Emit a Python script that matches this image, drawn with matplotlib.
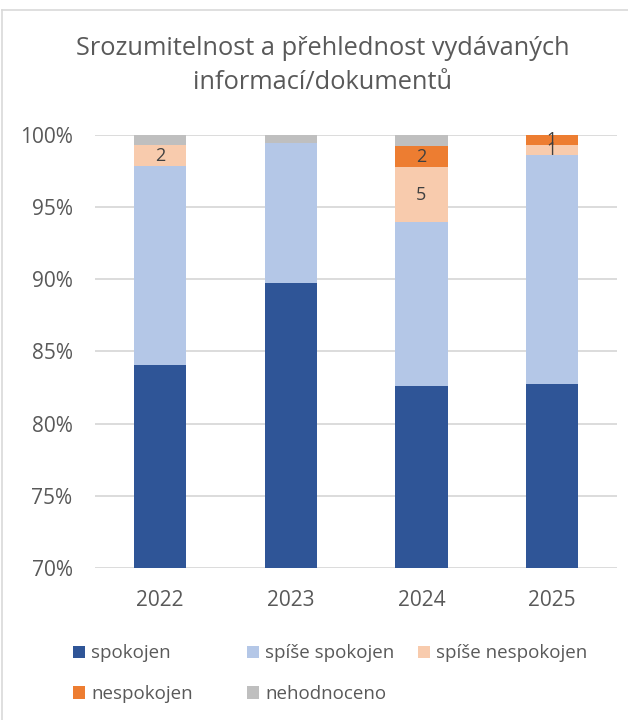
import matplotlib
matplotlib.use('Agg')
from matplotlib import pyplot as plt
from matplotlib.lines import Line2D
import numpy as np

plt.rcParams['font.family'] = ['Open Sans', 'DejaVu Sans']

years = ['2022', '2023', '2024', '2025']
series = ['spokojen', 'spíše spokojen', 'spíše nespokojen', 'nespokojen', 'nehodnoceno']
colors = ['#2F5597', '#B4C7E7', '#F8CBAD', '#ED7D31', '#BFBFBF']

# counts of answers per year
spokojen = [116, 157, 109, 115]
spise_spokojen = [19, 17, 15, 22]
spise_nespokojen = [2, 0, 5, 1]
nespokojen = [0, 0, 2, 1]
nehodnoceno = [1, 1, 1, 0]
labelled = [False, False, True, True, False]

counts = np.array([spokojen, spise_spokojen, spise_nespokojen, nespokojen, nehodnoceno], dtype=float)
shares = counts / counts.sum(axis=0)

text_col = '#595959'
fig = plt.figure(figsize=(6.28, 7.2), dpi=100)
ax = fig.add_axes([0.151, 0.211, 0.832, 0.602])

x = np.arange(len(years))
bottom = np.zeros(len(years))
handles = []
for i, name in enumerate(series):
    bars = ax.bar(x, shares[i], 0.4, bottom=bottom, color=colors[i], label=name, zorder=2)
    handles.append(bars)
    if labelled[i]:
        for j in range(len(years)):
            if counts[i, j] > 0:
                ax.text(x[j], bottom[j] + shares[i, j] / 2, f'{int(counts[i, j])}',
                        ha='center', va='center', fontsize=13, color='#404040', zorder=3)
    bottom += shares[i]

ax.set_ylim(0.70, 1.0)
ax.set_xlim(-0.5, 3.5)
ticks = np.arange(0.70, 1.001, 0.05)
ax.set_yticks(ticks)
ax.set_yticklabels([f'{int(round(v * 100))}%' for v in ticks])
ax.set_xticks(x)
ax.set_xticklabels(years)
ax.tick_params(axis='both', length=0, labelsize=15, colors=text_col)
ax.tick_params(axis='y', pad=16)
ax.tick_params(axis='x', pad=16)
ax.grid(axis='y', color='#D9D9D9', linewidth=1.3, zorder=0)
for s in ax.spines.values():
    s.set_visible(False)

fig.text(0.514, 0.909, 'Srozumitelnost a přehlednost vydávaných\ninformací/dokumentů',
         ha='center', va='center', fontsize=18.3, color=text_col, linespacing=1.45)

# legend: three columns placed like the original
columns = [([0, 3], 73), ([1, 4], 247), ([2], 418)]
for idx, xpix in columns:
    fig.legend([handles[k] for k in idx], [series[k] for k in idx],
               loc='upper left', bbox_to_anchor=(xpix / 628, 0.105), frameon=False,
               fontsize=13.5, labelcolor=text_col, handlelength=0.64, handleheight=0.64,
               handletextpad=0.32, labelspacing=1.2, borderpad=0, borderaxespad=0)

fig.add_artist(Line2D([2 / 628, 1], [1 - 10 / 720, 1 - 10 / 720], color='#D9D9D9', linewidth=1.2))
fig.add_artist(Line2D([2 / 628, 2 / 628], [0, 1 - 10 / 720], color='#D9D9D9', linewidth=1.2))

fig.savefig('out.png', dpi=100)
